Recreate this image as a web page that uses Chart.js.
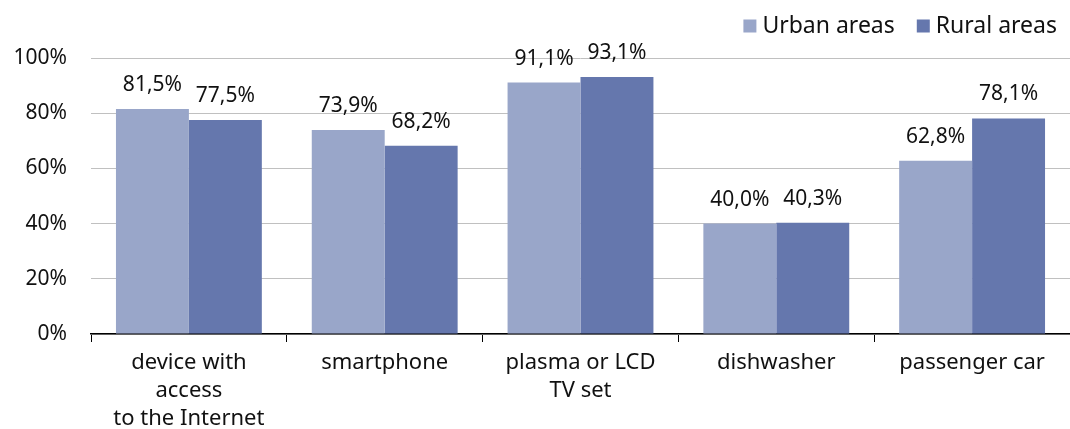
<!DOCTYPE html>
<html>
<head>
<meta charset="utf-8">
<script src="https://cdn.jsdelivr.net/npm/chart.js@4.4.0/dist/chart.umd.min.js"></script>
<style>
    body { margin: 0; background: #fff; }
    #chart { display: block; }
</style>
</head>
<body>
<canvas id="chart" width="1070" height="429"></canvas>
<script>
// Chart data
const categories = [
    ['device with', 'access', 'to the Internet'],
    'smartphone',
    ['plasma or LCD', 'TV set'],
    'dishwasher',
    'passenger car'
];
const urbanValues = [81.5, 73.9, 91.1, 40.0, 62.8];
const ruralValues = [77.5, 68.2, 93.1, 40.3, 78.1];
const seriesNames = ['Urban areas', 'Rural areas'];
const seriesColors = ['#99a6c9', '#6577ad'];
const yTicks = [0, 20, 40, 60, 80, 100];

const FONT = '"Noto Sans", "Open Sans", sans-serif';
const TEXT_COLOR = '#111';

// Value labels above each bar, comma as decimal separator
const valueLabels = {
    id: 'valueLabels',
    afterDatasetsDraw(chart) {
        const ctx = chart.ctx;
        ctx.save();
        ctx.font = '21px ' + FONT;
        ctx.fillStyle = TEXT_COLOR;
        ctx.textAlign = 'center';
        ctx.textBaseline = 'alphabetic';
        chart.data.datasets.forEach((ds, i) => {
            chart.getDatasetMeta(i).data.forEach((bar, j) => {
                const text = ds.data[j].toFixed(1).replace('.', ',') + '%';
                ctx.fillText(text, bar.x, bar.y - 18);
            });
        });
        ctx.restore();
    }
};

// Compact legend in the top right corner
const cornerLegend = {
    id: 'cornerLegend',
    afterDraw(chart) {
        const ctx = chart.ctx;
        const box = 13, gap = 6, itemGap = 22, right = 1057, midY = 26;
        ctx.save();
        ctx.font = '23px ' + FONT;
        ctx.textBaseline = 'middle';
        ctx.textAlign = 'left';
        const items = chart.data.datasets.map(ds => ({
            label: ds.label,
            color: ds.backgroundColor,
            w: ctx.measureText(ds.label).width
        }));
        let total = items.reduce((s, it) => s + box + gap + it.w, 0) + itemGap * (items.length - 1);
        let x = right - total;
        items.forEach(it => {
            ctx.fillStyle = it.color;
            ctx.fillRect(x, midY - box / 2, box, box);
            ctx.fillStyle = TEXT_COLOR;
            ctx.fillText(it.label, x + box + gap, midY);
            x += box + gap + it.w + itemGap;
        });
        ctx.restore();
    }
};

const ctx = document.getElementById('chart').getContext('2d');
new Chart(ctx, {
    type: 'bar',
    data: {
        labels: categories,
        datasets: [{
            label: seriesNames[0],
            data: urbanValues,
            backgroundColor: seriesColors[0]
        }, {
            label: seriesNames[1],
            data: ruralValues,
            backgroundColor: seriesColors[1]
        }]
    },
    options: {
        responsive: false,
        animation: false,
        layout: { padding: { left: 0, right: 0, top: 58, bottom: 0 } },
        datasets: {
            bar: { categoryPercentage: 0.745, barPercentage: 1.0 }
        },
        plugins: {
            legend: { display: false },
            tooltip: { enabled: false }
        },
        scales: {
            x: {
                afterFit(axis) { axis.height = 95; },
                grid: {
                    offset: true,
                    drawOnChartArea: false,
                    tickLength: 8,
                    color: '#000'
                },
                border: { color: '#000', width: 1.5 },
                ticks: {
                    color: TEXT_COLOR,
                    padding: 7,
                    maxRotation: 0,
                    autoSkip: false,
                    font: { family: FONT, size: 22, lineHeight: 1.27 }
                }
            },
            y: {
                min: 0,
                max: 100,
                afterBuildTicks(axis) {
                    axis.ticks = yTicks.map(v => ({ value: v }));
                },
                afterFit(axis) { axis.width = 91; },
                grid: {
                    color: '#c0c0c0',
                    drawTicks: false
                },
                border: { display: false },
                ticks: {
                    color: TEXT_COLOR,
                    padding: 24,
                    font: { family: FONT, size: 21 },
                    callback: v => v + '%'
                }
            }
        }
    },
    plugins: [valueLabels, cornerLegend]
});
</script>
</body>
</html>
